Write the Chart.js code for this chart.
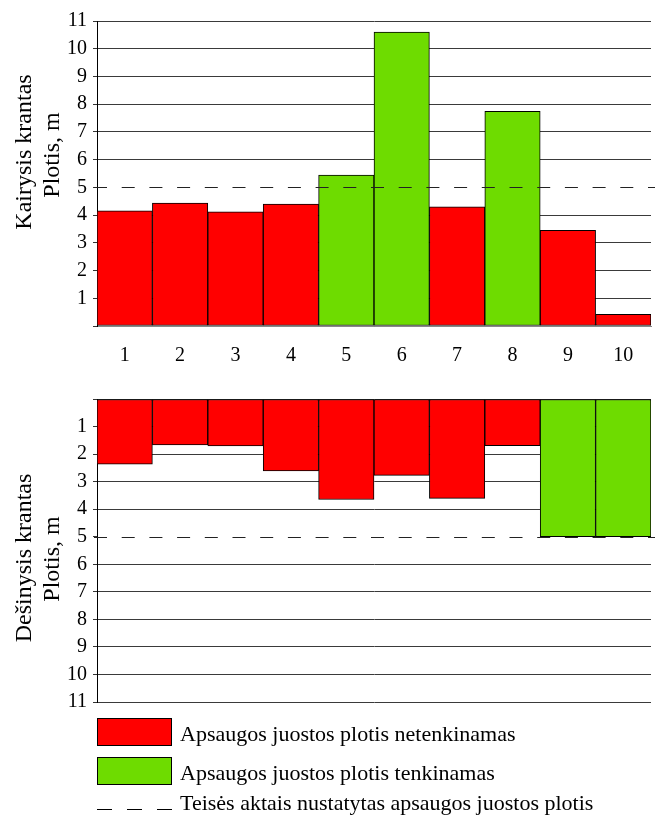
<!DOCTYPE html>
<html>
<head>
<meta charset="utf-8">
<script src="https://cdn.jsdelivr.net/npm/chart.js@4/dist/chart.umd.min.js"></script>
<style>
  html, body { margin: 0; padding: 0; background: #fff; }
  body { width: 655px; height: 823px; position: relative; overflow: hidden; font-family: "Liberation Serif", "DejaVu Serif", serif; color: #000; }
  .wrap { position: absolute; left: 0; width: 655px; }
  .ytitle { position: absolute; width: 300px; height: 28px; line-height: 28px; font-size: 24px; text-align: center; white-space: nowrap; transform: rotate(-90deg); }
  .leg { position: absolute; left: 180px; font-size: 22px; line-height: 22px; white-space: nowrap; }
  .box { position: absolute; left: 97px; width: 73px; height: 26px; border: 1px solid #000; }
</style>
</head>
<body>
<div class="wrap" style="top:0;height:380px"><canvas id="top" width="655" height="380"></canvas></div>
<div class="wrap" style="top:380px;height:340px"><canvas id="bot" width="655" height="340"></canvas></div>

<div class="ytitle" style="left:-127px;top:138px">Kairysis krantas</div>
<div class="ytitle" style="left:-99px;top:141px">Plotis, m</div>
<div class="ytitle" style="left:-127px;top:544px">Dešinysis krantas</div>
<div class="ytitle" style="left:-99px;top:545px">Plotis, m</div>

<div id="legend"></div>

<script>
// ---- data ----
const categories = ['1', '2', '3', '4', '5', '6', '7', '8', '9', '10'];
const leftBank = [4.15, 4.43, 4.12, 4.40, 5.44, 10.6, 4.30, 7.74, 3.45, 0.42];
const rightBank = [2.37, 1.67, 1.70, 2.61, 3.65, 2.77, 3.61, 1.69, 5.0, 5.0];
const threshold = 5;
const yTickValues = [1, 2, 3, 4, 5, 6, 7, 8, 9, 10, 11];
const legendLabels = [
  'Apsaugos juostos plotis netenkinamas',
  'Apsaugos juostos plotis tenkinamas',
  'Teisės aktais nustatytas apsaugos juostos plotis'
];
const RED = '#FF0000';
const GREEN = '#6EDC00';

const FONT = 'Liberation Serif';

const colorsFor = arr => arr.map(v => v >= threshold ? GREEN : RED);

const thresholdLine = {
  id: 'thresholdLine',
  afterDatasetsDraw(chart) {
    const y = Math.round(chart.scales.y.getPixelForValue(threshold)) + 0.5;
    const ctx = chart.ctx;
    ctx.save();
    ctx.strokeStyle = '#222';
    ctx.lineWidth = 1.2;
    ctx.setLineDash([13, 14.7]);
    ctx.beginPath();
    ctx.moveTo(chart.chartArea.left - 3, y);
    ctx.lineTo(chart.width, y);
    ctx.stroke();
    ctx.restore();
  }
};

function yScale(reverse) {
  return {
    type: 'linear',
    min: 0, max: 11,
    reverse: reverse,
    afterFit: s => { s.width = 97; },
    afterBuildTicks: s => { s.ticks = [0].concat(yTickValues).map(v => ({ value: v })); },
    ticks: {
      stepSize: 1,
      padding: 6,
      color: '#000',
      font: { family: FONT, size: 20 },
      callback: v => v === 0 ? '' : String(v)
    },
    grid: {
      color: c => (c.tick && c.tick.value === threshold) ? 'rgba(0,0,0,0)' : '#3a3a3a',
      tickColor: '#333',
      tickLength: 4,
      lineWidth: 1
    },
    border: { display: true, color: '#000', width: 1 }
  };
}

function makeChart(id, data, opts) {
  return new Chart(document.getElementById(id), {
    type: 'bar',
    data: {
      labels: categories,
      datasets: [{
        data: data,
        backgroundColor: colorsFor(data),
        borderColor: '#000',
        borderWidth: 1,
        borderSkipped: false,
        barPercentage: 1,
        categoryPercentage: 1
      }]
    },
    options: {
      responsive: false,
      devicePixelRatio: 1,
      animation: false,
      events: [],
      layout: { padding: opts.padding },
      plugins: { legend: { display: false }, tooltip: { enabled: false } },
      scales: {
        x: opts.x,
        y: yScale(opts.reverse)
      }
    },
    plugins: [thresholdLine]
  });
}

makeChart('top', leftBank, {
  reverse: false,
  padding: { top: 21, right: 4, bottom: 0, left: 0 },
  x: {
    type: 'category',
    afterFit: s => { s.height = 54; },
    ticks: { padding: 18, color: '#000', font: { family: FONT, size: 20 } },
    grid: { display: true, drawOnChartArea: false, drawTicks: false },
    border: { display: true, color: '#888', width: 1 }
  }
});

makeChart('bot', rightBank, {
  reverse: true,
  padding: { top: 19, right: 4, bottom: 17, left: 0 },
  x: { type: 'category', display: false }
});

// ---- legend (HTML) ----
const lg = document.getElementById('legend');
lg.innerHTML =
  '<div class="box" style="top:718px;background:' + RED + '"></div>' +
  '<div class="leg" style="top:723px">' + legendLabels[0] + '</div>' +
  '<div class="box" style="top:757px;background:' + GREEN + '"></div>' +
  '<div class="leg" style="top:762px">' + legendLabels[1] + '</div>' +
  '<svg style="position:absolute;left:97px;top:802px" width="76" height="14"><line x1="0" y1="7.5" x2="75" y2="7.5" stroke="#000" stroke-width="1.2" stroke-dasharray="15 15"/></svg>' +
  '<div class="leg" style="top:792px">' + legendLabels[2] + '</div>';
</script>
</body>
</html>
